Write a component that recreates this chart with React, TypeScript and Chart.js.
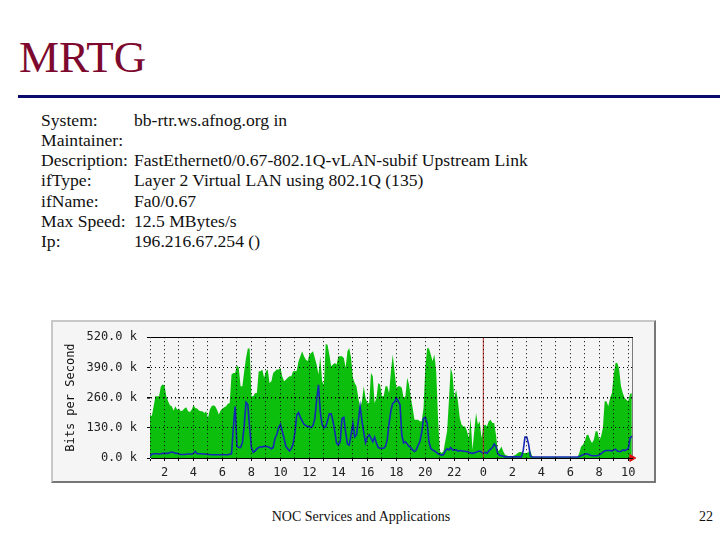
import { useEffect, useRef } from 'react'
import Chart from 'chart.js/auto'

// one row per hour, eight samples each, in k bits per second, starting at 01:00
const inbound = [
    187, 180, 223, 266, 266, 266, 309, 316,
    313, 266, 244, 227, 223, 204, 223, 208,
    213, 201, 204, 213, 218, 201, 198, 208,
    227, 215, 213, 204, 201, 201, 194, 201,
    172, 208, 223, 227, 223, 208, 187, 204,
    213, 218, 223, 233, 237, 359, 366, 366,
    399, 388, 309, 309, 373, 431, 471, 471,
    266, 266, 280, 280, 373, 373, 381, 345,
    373, 381, 323, 330, 366, 373, 381, 381,
    388, 352, 330, 337, 345, 352, 352, 373,
    373, 376, 416, 438, 460, 438, 424, 416,
    445, 452, 460, 431, 402, 359, 438, 330,
    316, 491, 488, 445, 395, 402, 409, 402,
    438, 438, 438, 431, 388, 460, 474, 431,
    345, 323, 309, 258, 215, 244, 309, 258,
    237, 237, 366, 352, 237, 258, 323, 316,
    266, 266, 309, 309, 280, 373, 445, 373,
    302, 309, 309, 302, 258, 266, 345, 316,
    258, 215, 165, 165, 165, 158, 158, 215,
    388, 474, 471, 445, 416, 445, 373, 172,
    29, 22, 29, 72, 115, 244, 388, 359,
    258, 294, 244, 172, 144, 136, 136, 115,
    86, 172, 36, 115, 194, 144, 158, 86,
    136, 144, 136, 158, 165, 151, 151, 100,
    29, 36, 50, 29, 14, 11, 7, 7,
    7, 11, 14, 22, 26, 26, 22, 22,
    22, 26, 29, 7, 3, 3, 3, 3,
    3, 3, 3, 3, 3, 3, 3, 3,
    3, 3, 3, 3, 3, 3, 3, 3,
    3, 3, 3, 3, 3, 22, 50, 57,
    72, 98, 100, 79, 65, 79, 115, 115,
    79, 93, 129, 244, 244, 223, 258, 280,
    359, 409, 409, 381, 309, 280, 258, 251,
    244, 276, 280,
]

const outbound = [
    8, 16, 18, 18, 18, 17, 18, 20,
    20, 20, 20, 24, 26, 24, 20, 20,
    17, 15, 15, 15, 16, 17, 17, 16,
    20, 28, 18, 18, 18, 17, 17, 16,
    15, 15, 14, 14, 14, 14, 14, 14,
    14, 14, 14, 14, 16, 18, 130, 222,
    50, 45, 45, 65, 140, 240, 230, 130,
    45, 25, 30, 40, 45, 48, 48, 50,
    50, 48, 45, 40, 45, 85, 100, 130,
    145, 115, 85, 50, 40, 30, 40, 60,
    110, 185, 195, 175, 160, 145, 140, 135,
    135, 130, 140, 170, 250, 315, 200, 145,
    130, 135, 160, 190, 190, 160, 115, 65,
    55, 70, 170, 175, 110, 60, 55, 100,
    150, 90, 100, 160, 222, 160, 110, 65,
    90, 100, 85, 70, 90, 65, 45, 42,
    42, 42, 50, 80, 150, 205, 235, 240,
    260, 245, 230, 100, 65, 70, 60, 50,
    45, 35, 28, 35, 55, 70, 110, 170,
    175, 150, 70, 40, 35, 30, 25, 18,
    15, 12, 15, 30, 40, 35, 45, 35,
    35, 35, 30, 32, 30, 30, 28, 28,
    25, 22, 20, 22, 25, 28, 30, 25,
    20, 25, 20, 30, 38, 45, 60, 50,
    18, 12, 10, 8, 5, 5, 5, 5,
    5, 5, 5, 5, 5, 5, 30, 90,
    90, 60, 8, 4, 4, 4, 4, 4,
    4, 4, 4, 4, 4, 4, 4, 4,
    4, 4, 4, 4, 4, 4, 4, 4,
    4, 4, 4, 4, 4, 6, 10, 14,
    16, 18, 16, 12, 10, 10, 10, 10,
    14, 18, 25, 30, 32, 32, 32, 30,
    35, 38, 30, 28, 28, 35, 32, 35,
    40, 85, 95,
]

const hours = inbound.map((_, i) => 1 + i / 8)
const yTicks = [0, 130, 260, 390, 520]
const xMax = 34.33

const title = 'MRTG'
const footer = 'NOC Services and Applications'
const pageNumber = '22'
const infoLabels = ['System:', 'Maintainer:', 'Description:', 'ifType:', 'ifName:', 'Max Speed:', 'Ip:']
const infoValues = [
    'bb-rtr.ws.afnog.org in',
    '',
    'FastEthernet0/0.67-802.1Q-vLAN-subif Upstream Link',
    'Layer 2 Virtual LAN using 802.1Q (135)',
    'Fa0/0.67',
    '12.5 MBytes/s',
    '196.216.67.254 ()',
]

const serif = '"Liberation Serif", serif'
const mono = '"DejaVu Sans Mono", monospace'

const TrafficChart = () => {
    const chartRef = useRef<HTMLCanvasElement>(null)

    useEffect(() => {
        if (!chartRef.current) return

        const chart = new Chart(chartRef.current, {
            type: 'line',
            data: {
                datasets: [
                    {
                        data: hours.map((x, i) => ({ x, y: inbound[i] })),
                        borderWidth: 0,
                        backgroundColor: '#0cbf0c',
                        fill: 'origin',
                        pointRadius: 0,
                        order: 4,
                    },
                    {
                        data: hours.map((x, i) => ({ x, y: outbound[i] })),
                        borderColor: '#1428b4',
                        borderWidth: 1.6,
                        fill: false,
                        pointRadius: 0,
                        order: 3,
                    },
                    {
                        // midnight marker
                        data: [{ x: 24, y: 0 }, { x: 24, y: 520 }],
                        borderColor: '#c8322d',
                        borderWidth: 1,
                        pointRadius: 0,
                        order: 2,
                    },
                    {
                        // right edge of the plot
                        data: [{ x: xMax, y: 0 }, { x: xMax, y: 520 }],
                        borderColor: '#000',
                        borderWidth: 1,
                        pointRadius: 0,
                        order: 1,
                    },
                    {
                        // "now" arrow at the end of the time axis
                        data: [{ x: 34.25, y: 0 }],
                        pointStyle: 'triangle',
                        pointRadius: 4,
                        rotation: 90,
                        backgroundColor: '#e01010',
                        borderColor: '#e01010',
                        clip: false,
                        order: 0,
                    },
                ],
            },
            options: {
                animation: false,
                responsive: false,
                layout: { padding: { top: 17, right: 23, left: 0, bottom: 0 } },
                plugins: { legend: { display: false }, tooltip: { enabled: false } },
                scales: {
                    x: {
                        type: 'linear',
                        min: 1,
                        max: xMax,
                        afterFit: (scale: any) => { scale.height = 25 },
                        ticks: {
                            stepSize: 1,
                            includeBounds: false,
                            autoSkip: false,
                            maxRotation: 0,
                            padding: 5,
                            color: '#222',
                            font: { family: mono, size: 12 },
                            callback: (value: any) => {
                                if (!Number.isInteger(value) || value % 2 !== 0) return ''
                                return String(value % 24)
                            },
                        },
                        grid: {
                            z: 1,
                            color: '#000',
                            lineWidth: 1,
                            tickLength: 3,
                            tickColor: '#000',
                        },
                        border: {
                            color: '#000',
                            dash: [1, 3],
                        },
                    },
                    y: {
                        min: 0,
                        max: 520,
                        afterFit: (scale: any) => { scale.width = 99 },
                        afterBuildTicks: (scale: any) => {
                            scale.ticks = yTicks.map(value => ({ value }))
                        },
                        title: {
                            display: true,
                            text: 'Bits per Second',
                            color: '#111',
                            font: { family: mono, size: 12 },
                            padding: { top: 13, bottom: 0 },
                        },
                        ticks: {
                            padding: 10,
                            color: '#222',
                            font: { family: mono, size: 12 },
                            callback: (value: any) => Number(value).toFixed(1) + ' k',
                        },
                        grid: {
                            z: 1,
                            color: '#000',
                            lineWidth: (ctx: any) => (ctx.tick && ctx.tick.value === 260 ? 1.6 : 1),
                            tickLength: 3,
                            tickColor: '#000',
                        },
                        border: {
                            color: '#000',
                            dash: (ctx: any) => (ctx.tick && (ctx.tick.value === 520 || ctx.tick.value === 0) ? [] : [1, 3]),
                        },
                    },
                },
            },
        })

        return () => {
            chart.destroy()
        }
    }, [])

    return <canvas ref={chartRef} width={605} height={163} style={{ display: 'block' }} />
}

const App = () => {
    return (
        <div style={{ position: 'absolute', left: 0, top: 0, width: 720, height: 540, background: '#fff', overflow: 'hidden', fontFamily: serif, color: '#111' }}>
            <div style={{ position: 'absolute', left: 19, top: 30, fontSize: 45, lineHeight: '54px', color: '#7d0a2e' }}>{title}</div>
            <div style={{ position: 'absolute', left: 18, top: 95, width: 702, height: 3, background: '#0a0a6e' }} />
            {infoLabels.map((label, i) => (
                <div key={label} style={{ position: 'absolute', left: 41, top: 109.5 + i * 20.3, fontSize: 17.6, lineHeight: '20px', whiteSpace: 'nowrap' }}>
                    {label}
                    <span style={{ position: 'absolute', left: 93, top: 0 }}>{infoValues[i]}</span>
                </div>
            ))}
            <div style={{ position: 'absolute', left: 51, top: 320, width: 605, height: 163, background: '#f5f5f5' }}>
                <TrafficChart />
                <div style={{ position: 'absolute', right: 0, top: 0, width: 605, height: 163, boxSizing: 'border-box', borderRight: '2px solid #777', borderBottom: '2px solid #777', borderTop: '2px solid #c8c8c8', borderLeft: '2px solid #c8c8c8', pointerEvents: 'none' }} />
            </div>
            <div style={{ position: 'absolute', left: 200, width: 322, top: 509, textAlign: 'center', fontSize: 14, lineHeight: '16px' }}>{footer}</div>
            <div style={{ position: 'absolute', left: 699, top: 509, fontSize: 14, lineHeight: '16px' }}>{pageNumber}</div>
        </div>
    )
}

export default App
